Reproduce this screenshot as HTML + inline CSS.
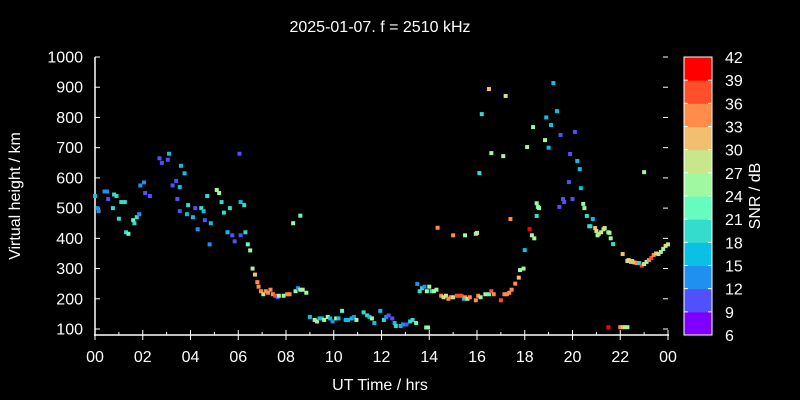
<!DOCTYPE html>
<html><head><meta charset="utf-8"><style>
html,body{margin:0;padding:0;background:#000;overflow:hidden;width:800px;height:400px;}
svg{display:block;}
svg text{font-family:"Liberation Sans",sans-serif;fill:#fff;}
</style></head><body>
<svg id="c" width="800" height="400" xmlns="http://www.w3.org/2000/svg">
<rect width="800" height="400" fill="#000"/>
<text x="380" y="32" font-size="16" text-anchor="middle">2025-01-07. f = 2510 kHz</text>
<text x="380" y="390" font-size="16" text-anchor="middle">UT Time / hrs</text>
<text transform="translate(20,196) rotate(-90)" font-size="16" text-anchor="middle">Virtual height / km</text>
<text transform="translate(760,196) rotate(-90)" font-size="16" text-anchor="middle">SNR / dB</text>
<g id="axes"></g><g id="pts"></g><g id="cbar"></g>
</svg>
<script>
const hours=[0.0,0.1,0.15,0.4,0.5,0.55,0.75,0.8,0.9,1.0,1.1,1.25,1.3,1.4,1.6,1.65,1.75,1.85,1.9,2.05,2.1,2.3,2.7,2.8,3.05,3.1,3.25,3.4,3.55,3.6,3.75,3.45,3.55,3.85,3.9,4.1,4.2,4.3,4.45,4.55,4.6,4.7,4.8,4.85,5.1,5.2,5.3,5.4,5.55,5.65,5.75,5.85,6.05,6.1,6.1,6.25,6.3,6.4,6.5,6.6,6.7,6.8,6.85,6.95,7.05,7.15,7.25,7.35,7.45,7.55,7.65,7.7,7.9,8.05,8.15,8.3,8.6,8.4,8.5,8.6,8.7,8.85,
9.0,9.2,9.3,9.4,9.5,9.6,9.75,9.85,9.95,10.1,10.2,10.35,10.5,10.6,10.75,10.85,10.95,11.25,11.4,11.5,11.6,11.7,11.95,12.1,12.2,12.3,12.45,12.55,12.6,12.8,12.9,13.05,13.2,13.3,13.45,13.87,13.95,
13.5,13.6,13.7,13.8,13.9,14.0,14.1,14.2,14.3,14.5,14.6,14.7,14.8,14.9,15.0,15.15,15.25,15.35,15.45,15.5,15.6,15.7,15.95,16.05,16.15,16.35,16.5,16.6,16.7,17.0,17.15,17.25,17.35,17.45,17.6,17.75,17.8,17.95,
14.35,15.0,15.5,15.95,16.5,17.2,16.2,16.1,16.6,17.1,16.0,17.4,18.2,18.3,18.4,18.0,18.1,18.35,18.85,19.0,19.2,19.35,18.9,19.1,19.5,20.1,19.9,20.2,20.3,19.85,20.35,19.6,19.65,19.45,20.0,18.5,18.55,18.6,18.5,
20.45,20.5,20.6,20.7,20.75,20.85,20.95,21.0,21.1,21.2,21.3,21.35,21.05,21.5,21.55,21.6,21.7,22.1,22.3,22.35,22.45,22.5,22.6,22.7,22.8,22.9,23.0,23.1,23.2,23.3,23.4,23.5,23.6,23.7,23.8,23.9,24.0,
21.5,22.0,22.1,22.2,22.3,23.0];
const heights=[540,500,490,555,555,530,500,545,540,465,520,520,420,415,460,450,470,480,575,585,550,540,665,650,660,680,575,590,570,640,615,530,490,480,510,470,500,430,500,490,460,540,380,450,560,550,520,485,420,500,410,390,680,410,520,510,420,380,360,300,280,255,240,225,215,225,220,230,215,210,205,210,210,215,215,450,475,225,235,230,230,220,
140,130,125,135,135,130,140,135,125,135,135,160,130,130,135,140,130,155,145,140,135,120,160,130,140,145,135,120,110,110,115,115,125,130,120,105,105,
249,225,235,240,225,240,225,225,230,210,205,210,200,205,205,210,210,210,200,205,200,205,195,210,205,215,215,225,215,195,215,215,220,230,250,270,295,300,
435,410,410,415,894,871,811,616,682,672,418,464,431,410,400,361,702,768,725,700,914,821,800,775,742,752,679,656,629,586,566,530,520,504,530,516,504,500,474,
514,500,474,440,440,464,434,424,415,420,430,434,410,420,418,400,381,348,325,328,322,325,320,318,318,310,315,322,328,335,345,350,348,355,365,375,380,
106,106,106,106,106,619];
const snr=[17,13,13,13,13,11,19,19,19,19,19,19,19,23,23,19,19,13,13,13,11,11,11,11,11,17,11,11,17,17,17,11,11,17,19,17,11,13,19,17,11,19,13,17,25,25,19,19,17,19,11,11,11,11,17,19,19,23,25,29,32,34,35,35,25,34,34,35,35,38,11,25,25,35,35,26,21,25,13,25,25,25,
17,25,27,17,17,25,26,17,13,25,17,23,17,17,17,13,26,19,19,17,25,17,17,19,13,11,11,17,19,17,13,11,19,19,23,23,25,
13,19,19,13,25,25,19,25,25,34,29,29,35,35,29,38,38,38,17,34,25,35,35,34,25,25,21,38,35,38,35,35,34,34,35,32,25,25,
35,35,26,26,32,27,19,19,25,25,27,33,40,25,25,17,25,25,25,17,17,17,17,17,11,11,11,17,17,11,17,11,11,11,11,25,23,25,19,
25,25,19,19,19,17,32,29,27,27,27,27,25,26,26,25,19,32,27,27,32,32,32,35,19,38,27,25,35,38,34,32,27,27,26,27,27,
41,34,32,27,26,26];
const X=h=>95+h*(573/24), Y=k=>57+(1000-k)*0.30222;
const cols=['#8000ff','#5050fc','#2090f0','#0ac0e4','#33dccc','#66fcc0','#a0f8a0','#c8e68a','#f0c070','#ff8c4a','#ff4f2a','#ff0000'];
const col=s=>cols[Math.max(0,Math.min(11,Math.floor((s-6)/3)))];
const NS='http://www.w3.org/2000/svg';
const mk=(p,t,a)=>{const e=document.createElementNS(NS,t);for(const k in a)e.setAttribute(k,a[k]);p.appendChild(e);return e;};
const ax=document.getElementById('axes');
let l=mk(ax,'line',{x1:95,y1:57,x2:95,y2:336,stroke:'#fff','stroke-width':1.5});


l=mk(ax,'line',{x1:94,y1:335,x2:669,y2:335,stroke:'#fff','stroke-width':1.5});


const yTicks=[100,200,300,400,500,600,700,800,900,1000];
yTicks.forEach(v=>{const y=Y(v);
 mk(ax,'line',{x1:95,y1:y,x2:100,y2:y,stroke:'#fff'});
 mk(ax,'line',{x1:663,y1:y,x2:668,y2:y,stroke:'#fff'});
 const t=mk(ax,'text',{x:83,y:y+5.5,'font-size':16,'text-anchor':'end'});t.textContent=v;
 
 });
const xLabels=['00','02','04','06','08','10','12','14','16','18','20','22','00'];
for(let h=0;h<=24;h++){const x=X(h);const maj=h%2==0;
 mk(ax,'line',{x1:x,y1:335,x2:x,y2:maj?330:332,stroke:'#fff'});
 if(maj){mk(ax,'line',{x1:x,y1:335,x2:x,y2:340,stroke:'#fff'});
  const t=mk(ax,'text',{x:x,y:362,'font-size':16,'text-anchor':'middle'});t.textContent=xLabels[h/2];
  
  }}
const pg=document.getElementById('pts');
hours.forEach((h,i)=>{const r=mk(pg,'rect',{x:X(h)-2,y:Y(heights[i])-2,width:4,height:4,fill:col(snr[i])});
 
 });
const cb=document.getElementById('cbar');
const cbTicks=[6,9,12,15,18,21,24,27,30,33,36,39,42];
const CY=v=>335-(v-6)*(278/36);
for(let i=0;i<12;i++){const r=mk(cb,'rect',{x:684,y:CY(cbTicks[i+1]),width:28,height:CY(cbTicks[i])-CY(cbTicks[i+1])+0.5,fill:cols[i]});
 
 }
mk(cb,'rect',{x:684,y:57,width:28,height:278,fill:'none',stroke:'#fff'});
cbTicks.forEach(v=>{const y=CY(v);
 mk(cb,'line',{x1:684,y1:y,x2:688,y2:y,stroke:'#fff'});mk(cb,'line',{x1:708,y1:y,x2:712,y2:y,stroke:'#fff'});
 const t=mk(cb,'text',{x:725,y:y+6,'font-size':16});t.textContent=v;
 
 });
</script>
</body></html>
